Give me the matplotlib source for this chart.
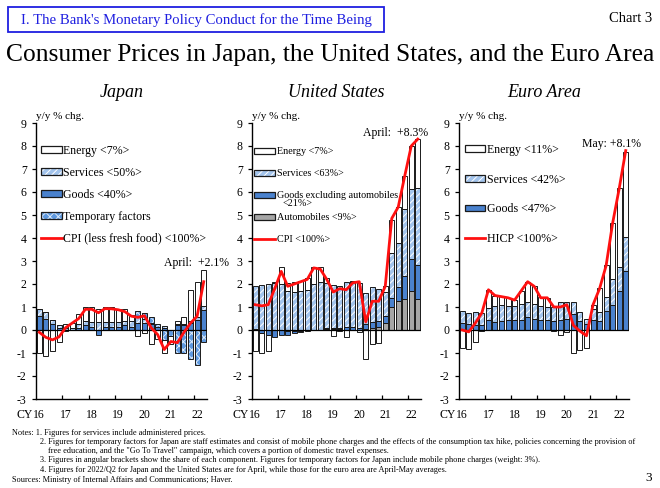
import numpy as np
import matplotlib
matplotlib.use("Agg")
import matplotlib.pyplot as plt
from matplotlib.patches import Patch, Rectangle
from matplotlib.lines import Line2D

plt.rcParams['font.family'] = ['Liberation Serif', 'DejaVu Serif']
plt.rcParams['hatch.linewidth'] = 0.7

# ---------------- data (quarterly 2016Q1 .. 2022Q2) ----------------
year_labels = ['16', '17', '18', '19', '20', '21', '22']
n_q = 26

# Japan: contributions to CPI (less fresh food), y/y % pts
jp_goods = [0.6, 0.5, 0.25, 0.1, -0.05, 0.0, 0.1, 0.2, 0.15, -0.2, 0.15, 0.15, 0.15,
            0.2, 0.15, 0.3, 0.3, 0.25, 0.15, 0.1, 0.0, 0.2, 0.2, 0.3, 0.45, 0.85]
jp_services = [0.3, 0.28, 0.17, 0.1, 0.1, 0.1, 0.15, 0.2, 0.2, 0.35, 0.2, 0.2, 0.2,
               0.2, 0.25, 0.25, 0.2, 0.05, 0.0, 0.07, 0.0, 0.05, 0.05, 0.1, 0.1, 0.2]
jp_temp = [0, 0, 0, 0, 0, 0, 0, 0, 0, 0, 0, 0, 0,
           0, 0, 0.28, 0.26, 0.25, 0.1, -0.45, -0.25, -1.0, -1.0, -1.27, -1.5, -0.5]
jp_energy = [-1.0, -1.15, -0.9, -0.5, 0.18, 0.2, 0.43, 0.6, 0.65, 0.55, 0.65, 0.65, 0.58,
             0.5, 0.25, -0.28, -0.12, -0.62, -0.4, -0.55, -0.35, 0.15, 0.32, 1.32, 1.55, 1.55]
jp_cpi = [-0.1, -0.32, -0.43, -0.3, 0.1, 0.3, 0.5, 0.9, 0.9, 0.75, 0.93, 0.92, 0.88,
          0.8, 0.6, 0.55, 0.62, 0.1, -0.2, -0.85, -0.5, -0.55, -0.1, 0.3, 0.6, 2.1]

# United States
us_autos = [0.0, 0.0, 0.0, 0.0, 0.0, -0.05, -0.05, -0.05, 0.0, 0.0, 0.02, 0.05, 0.05,
            0.03, 0.02, 0.02, 0.02, 0.05, 0.1, 0.15, 0.3, 1.0, 1.28, 1.35, 1.7, 1.35]
us_goods = [0.05, -0.15, -0.2, -0.3, -0.2, -0.15, -0.1, -0.05, -0.05, 0.0, 0.0, 0.05, 0.05,
            0.05, 0.1, 0.1, 0.08, 0.2, 0.25, 0.25, 0.3, 0.4, 0.57, 1.0, 1.38, 1.48]
us_services = [1.88, 1.97, 2.0, 2.05, 2.0, 1.7, 1.65, 1.7, 1.75, 2.0, 2.05, 1.95, 1.85,
               1.85, 1.95, 1.95, 1.95, 1.35, 1.5, 1.4, 1.05, 1.95, 1.95, 2.9, 3.05, 3.33]
us_energy = [-0.9, -0.83, -0.7, 0.05, 0.72, 0.35, 0.45, 0.45, 0.5, 0.72, 0.65, 0.2, -0.25,
             -0.05, -0.3, 0.05, -0.1, -1.25, -0.62, -0.55, 0.25, 1.45, 1.53, 1.43, 1.87, 2.14]
us_cpi = [1.1, 1.05, 1.1, 1.8, 2.55, 1.9, 2.0, 2.1, 2.2, 2.7, 2.65, 2.2, 1.65,
          1.8, 1.75, 2.05, 2.1, 0.35, 1.25, 1.25, 1.9, 4.85, 5.35, 6.7, 8.0, 8.3]

# Euro area
ea_goods = [0.3, 0.27, 0.22, 0.2, 0.45, 0.35, 0.4, 0.45, 0.45, 0.45, 0.55, 0.5, 0.45,
            0.45, 0.4, 0.45, 0.5, 0.7, 0.4, 0.25, 0.45, 0.4, 0.84, 1.1, 1.71, 2.58]
ea_services = [0.52, 0.45, 0.57, 0.55, 0.5, 0.7, 0.7, 0.6, 0.6, 0.7, 0.65, 0.65, 0.6,
               0.55, 0.6, 0.75, 0.7, 0.52, 0.38, 0.25, 0.45, 0.37, 0.58, 1.1, 1.01, 1.45]
ea_energy = [-0.8, -0.82, -0.5, -0.05, 0.78, 0.45, 0.4, 0.35, 0.25, 0.55, 0.9, 0.75, 0.4,
             0.4, -0.05, -0.2, -0.1, -1.02, -0.85, -0.78, 0.2, 1.06, 1.41, 2.45, 3.44, 3.72]
ea_hicp = [0.0, -0.08, 0.3, 0.75, 1.75, 1.5, 1.45, 1.4, 1.3, 1.7, 2.1, 1.9, 1.4,
           1.4, 1.0, 1.0, 1.1, 0.2, -0.05, -0.25, 1.1, 1.8, 2.8, 4.65, 6.15, 7.8]

# ---------------- styles ----------------
EDGE = '#1a1a1a'
STY = {
    'energy': dict(fc='white', hatch=None, hc=None),
    'services': dict(fc='#A3C4EC', hatch='/////', hc='white'),
    'goods': dict(fc='#4A82CE', hatch=None, hc=None),
    'temp': dict(fc='#5E98DE', hatch='xxxx', hc='#DDEBFA'),
    'autos': dict(fc='#A6A6A6', hatch=None, hc=None),
}
RED = '#FF1010'
BW = 0.76

fig = plt.figure(figsize=(6.6, 4.88), dpi=100)
W, H = 660.0, 488.0


def make_ax(left_px, right_px):
    top_px, bot_px = 123.0, 399.0
    return fig.add_axes([left_px / W, 1 - bot_px / H, (right_px - left_px) / W, (bot_px - top_px) / H])


def stacked(ax, comps):
    x = np.arange(n_q)
    pos = np.zeros(n_q)
    neg = np.zeros(n_q)
    for vals, key in comps:
        v = np.asarray(vals, dtype=float)
        base = np.where(v >= 0, pos, neg)
        s = STY[key]
        if s['hatch']:
            ax.bar(x, v, BW, bottom=base, color=s['fc'], hatch=s['hatch'],
                   edgecolor=s['hc'], linewidth=0, zorder=2)
        else:
            ax.bar(x, v, BW, bottom=base, color=s['fc'], linewidth=0, zorder=2)
        ax.bar(x, v, BW, bottom=base, fill=False, edgecolor=EDGE, linewidth=0.7, zorder=2.5)
        pos = np.where(v >= 0, pos + v, pos)
        neg = np.where(v < 0, neg + v, neg)


def handle(key):
    s = STY[key]
    if s['hatch']:
        return (Patch(facecolor=s['fc'], hatch=s['hatch'], edgecolor=s['hc'], linewidth=0),
                Patch(fill=False, edgecolor=EDGE, linewidth=0.9))
    return Patch(facecolor=s['fc'], edgecolor=EDGE, linewidth=0.9)


def style_ax(ax, title, ann, ann_xy):
    ax.set_xlim(-0.5, n_q - 0.5)
    ax.set_ylim(-3, 9)
    ax.set_yticks(range(-3, 10))
    ax.set_yticklabels([str(v) for v in range(-3, 10)])
    for sp in ['top', 'right']:
        ax.spines[sp].set_visible(False)
    ax.spines['left'].set_linewidth(1.0)
    ax.spines['bottom'].set_linewidth(1.0)
    ax.tick_params(axis='y', direction='out', length=2.7, width=0.9, pad=4, labelsize=8.5)
    ax.set_xticks(np.arange(0, n_q, 4))
    ax.set_xticklabels(year_labels)
    ax.set_xticks(np.arange(3.5, n_q - 1, 4), minor=True)
    ax.tick_params(axis='x', which='major', length=0, pad=7, labelsize=8.5)
    ax.tick_params(axis='x', which='minor', direction='in', length=3, width=0.9)
    ax.axhline(0, color='black', lw=0.9, zorder=3)
    ax.text(0.5, 1.112, title, transform=ax.transAxes, ha='center', va='center',
            fontsize=13, style='italic')
    ax.text(0.0, 1.025, 'y/y % chg.', transform=ax.transAxes, ha='left', va='center', fontsize=8)
    ax.annotate('CY', xy=(0, 0), xycoords='axes fraction', xytext=(-2, -11.5),
                textcoords='offset points', ha='right', va='center', fontsize=8.5)
    ax.text(ann_xy[0], ann_xy[1], ann, transform=ax.transAxes, ha='center', va='center',
            fontsize=8.5)


x = np.arange(n_q)

# ---- Japan
ax1 = make_ax(36, 207)
stacked(ax1, [(jp_goods, 'goods'), (jp_services, 'services'), (jp_temp, 'temp'), (jp_energy, 'energy')])
ax1.plot(x, jp_cpi, color=RED, lw=2, zorder=5)
style_ax(ax1, 'Japan', 'April:  +2.1%', (0.94, 0.493))
h1 = [handle('energy'), handle('services'), handle('goods'), handle('temp'),
      Line2D([], [], color=RED, lw=2)]
l1 = ['Energy <7%>', 'Services <50%>', 'Goods <40%>', 'Temporary factors', 'CPI (less fresh food) <100%>']
ax1.legend(h1, l1, loc='upper left', bbox_to_anchor=(0.029, 0.922), frameon=False, fontsize=8.6,
           borderpad=0, borderaxespad=0, handlelength=1.76, handleheight=0.48,
           handletextpad=0.12, labelspacing=0.84)

# ---- United States
ax2 = make_ax(252, 421)
stacked(ax2, [(us_autos, 'autos'), (us_goods, 'goods'), (us_services, 'services'), (us_energy, 'energy')])
ax2.plot(x, us_cpi, color=RED, lw=2, zorder=5)
style_ax(ax2, 'United States', 'April:  +8.3%', (0.852, 0.964))
h2 = [handle('energy'), handle('services'), handle('goods'), handle('autos'),
      Line2D([], [], color=RED, lw=2)]
l2 = ['Energy <7%>', 'Services <63%>', 'Goods excluding automobiles', 'Automobiles <9%>', 'CPI <100%>']
ax2.legend(h2, l2, loc='upper left', bbox_to_anchor=(0.014, 0.912), frameon=False, fontsize=7.3,
           borderpad=0, borderaxespad=0, handlelength=2.08, handleheight=0.56,
           handletextpad=0.12, labelspacing=1.28)
ax2.text(0.183, 0.709, '<21%>', transform=ax2.transAxes, ha='left', va='center', fontsize=7.3)

# ---- Euro Area
ax3 = make_ax(459, 629)
stacked(ax3, [(ea_goods, 'goods'), (ea_services, 'services'), (ea_energy, 'energy')])
ax3.plot(x, ea_hicp, color=RED, lw=2, zorder=5)
style_ax(ax3, 'Euro Area', 'May: +8.1%', (0.897, 0.924))
h3 = [handle('energy'), handle('services'), handle('goods'), Line2D([], [], color=RED, lw=2)]
l3 = ['Energy <11%>', 'Services <42%>', 'Goods <47%>', 'HICP <100%>']
ax3.legend(h3, l3, loc='upper left', bbox_to_anchor=(0.035, 0.924), frameon=False, fontsize=8.6,
           borderpad=0, borderaxespad=0, handlelength=1.7, handleheight=0.48,
           handletextpad=0.12, labelspacing=1.47)

# ---------------- header / title / notes ----------------
BLUE = '#1F1FE0'
fig.patches.append(Rectangle((8 / W, 1 - 32 / H), 376 / W, 25 / H, transform=fig.transFigure,
                             fill=False, edgecolor=BLUE, linewidth=1.3))
fig.text(196 / W, 1 - 20 / H, "I. The Bank's Monetary Policy Conduct for the Time Being",
         ha='center', va='center', fontsize=10.6, color=BLUE)
fig.text(652 / W, 1 - 22 / H, 'Chart 3', ha='right', va='baseline', fontsize=10.5)
fig.text(0.5, 1 - 61.5 / H, 'Consumer Prices in Japan, the United States, and the Euro Area',
         ha='center', va='baseline', fontsize=18.4)

NFS = 5.95
notes = [
    (12, 433, 'Notes: 1. Figures for services include administered prices.'),
    (40, 442, '2. Figures for temporary factors for Japan are staff estimates and consist of mobile phone charges '
              'and the effects of the consumption tax hike, policies concerning the provision of'),
    (48, 451, 'free education, and the "Go To Travel" campaign, which covers a portion of domestic travel expenses.'),
    (40, 460.5, '3. Figures in angular brackets show the share of each component. Figures for temporary factors '
                'for Japan include mobile phone charges (weight: 3%).'),
    (40, 470, '4. Figures for 2022/Q2 for Japan and the United States are for April, while those for the euro area '
              'are April-May averages.'),
    (12, 479.5, 'Sources: Ministry of Internal Affairs and Communications; Haver.'),
]
for xp, yp, t in notes:
    fig.text(xp / W, 1 - yp / H, t, ha='left', va='center', fontsize=NFS)
fig.text(652 / W, 1 - 478 / H, '3', ha='right', va='center', fontsize=9.5)

fig.savefig('out.png', dpi=100)
